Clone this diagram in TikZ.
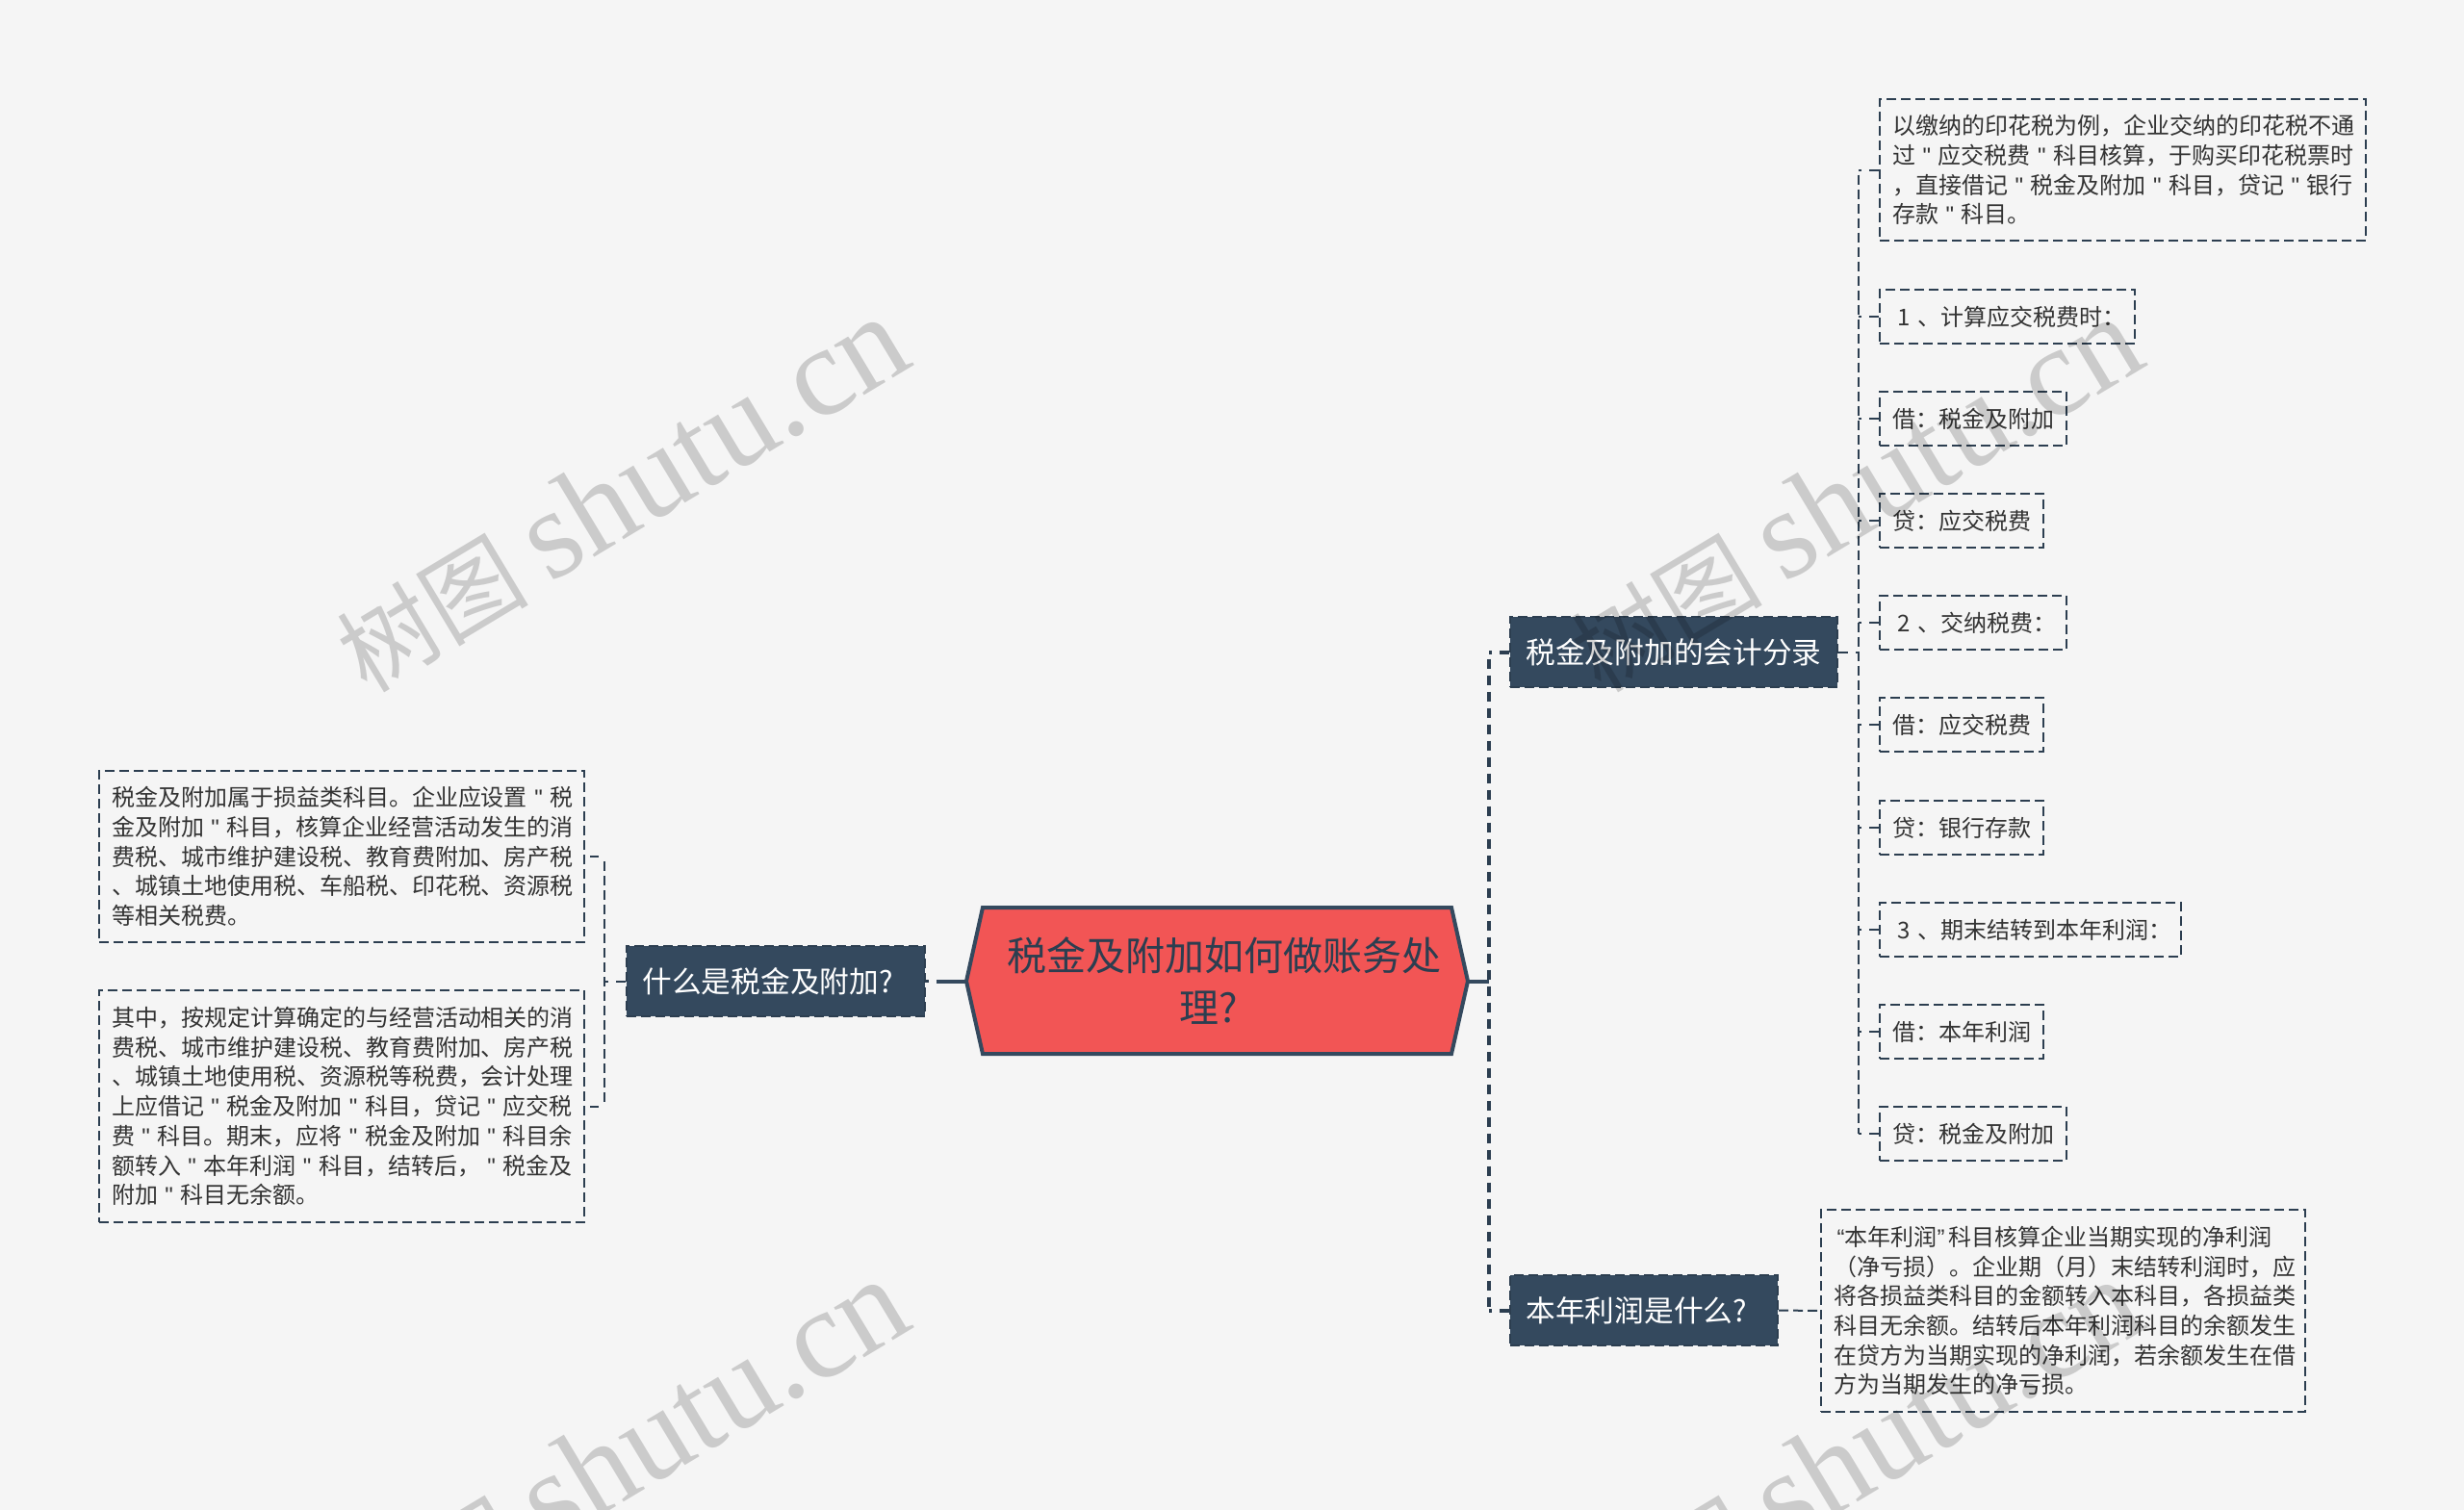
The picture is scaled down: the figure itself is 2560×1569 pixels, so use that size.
\documentclass[tikz,border=0pt]{standalone}
\usepackage{fontspec}
\setmainfont{Noto Sans CJK SC}
\newfontfamily\wmlatin{Liberation Serif}
\newfontfamily\plainq{Liberation Sans}
\newcommand{\qq}{\hbox to 23.5pt{\hss\plainq"\hss}}
\newcommand{\qlq}{\hbox to 11.5pt{\hss\plainq “}}
\newcommand{\qrq}{\hbox to 11.5pt{\plainq ”\hss}}
\newcommand{\wmtext}{\fontsize{100}{120}\selectfont 树图 {\wmlatin\fontsize{132}{120}\selectfont shutu.cn}}
\definecolor{bgc}{HTML}{F5F5F5}
\definecolor{navy}{HTML}{34495E}
\definecolor{navyd}{HTML}{2C3E50}
\definecolor{redc}{HTML}{F25555}
\definecolor{txt}{HTML}{333333}
\tikzset{
 leaf/.style={draw=navyd,line width=2pt,dash pattern=on 10pt off 5pt,text=txt,align=left,inner xsep=13pt,inner ysep=0pt,
   font=\fontsize{24}{30.7}\selectfont},
 branch/.style={draw=navyd,fill=navy,line width=2pt,dash pattern=on 10pt off 5pt,text=white,align=left,inner xsep=16.5pt,inner ysep=0pt,
   font=\fontsize{30.7}{36}\selectfont},
 thin link/.style={draw=navyd,line width=2pt,dash pattern=on 10pt off 5pt,dash phase=10pt},
 stub link/.style={draw=navyd,line width=2pt,dash pattern=on 10pt off 8pt},
 mid stub/.style={draw=navyd,line width=2pt,dash pattern=on 8.5pt off 6.5pt,dash phase=8.5pt},
 thick link/.style={draw=navyd,line width=4pt,dash pattern=on 10pt off 7pt,dash phase=10pt},
 thick stub/.style={draw=navyd,line width=4pt,dash pattern=on 10pt off 8pt},
 solid link/.style={draw=navy,line width=4pt},
 rootshape/.style={draw=navy,fill=redc,line width=4pt,line join=miter},
 roottext/.style={text=navyd,align=center,inner sep=0pt,font=\fontsize{41}{54}\selectfont},
 wm/.style={text=black,text opacity=.17,rotate=31,inner sep=0pt}
}
\begin{document}
\begin{tikzpicture}[x=1pt,y=-1pt]
\useasboundingbox (0,0) rectangle (2560,1569);
\fill[bgc] (0,0) rectangle (2560,1569);
% named positions of spines and root tips
\coordinate (rootL) at (1004,1019.5);
\coordinate (rootR) at (1525,1019.5);
\coordinate (rootLstub) at (973,1019.5);
\coordinate (t3stub) at (965,1019.5);
\coordinate (spine) at (1547,1019.5);
\coordinate (rspine) at (1931,677);
\coordinate (lspine) at (628,1019.5);
% root
\path[rootshape] (rootL) -- (1021,943) -- (1508,943) -- (rootR) -- (1508,1095) -- (1021,1095) -- cycle;
\node[roottext] (root) at (1271.5,1019) {税金及附加如何做账务处\\理?\hspace*{32pt}};
% branches
\node[branch,text width=307pt,minimum height=73pt] (t1) at (1739,677.5) {税金及附加的会计分录};
\node[branch,text width=245pt,minimum height=73pt] (t2) at (1708,1361.5) {本年利润是什么?};
\node[branch,text width=277pt,minimum height=73pt] (t3) at (806,1019.5) {什么是税金及附加?};
% right leaves
\node[leaf,text width=479pt,minimum height=147pt] (b1) at (2205.5,176.5) {以缴纳的印花税为例，企业交纳的印花税不通\\过\qq 应交税费\qq 科目核算，于购买印花税票时\\，直接借记\qq 税金及附加\qq 科目，贷记\qq 银行\\存款\qq 科目。};
\node[leaf,text width=239pt,minimum height=56pt] (b2) at (2085.5,329) {\mbox{\hspace*{5pt}1 、计算应交税费时：}};
\node[leaf,text width=168pt,minimum height=56pt] (b3) at (2050,435) {借：税金及附加};
\node[leaf,text width=144pt,minimum height=56pt] (b4) at (2038,541) {贷：应交税费};
\node[leaf,text width=168pt,minimum height=56pt] (b5) at (2050,647) {\mbox{\hspace*{5pt}2 、交纳税费：}};
\node[leaf,text width=144pt,minimum height=56pt] (b6) at (2038,753) {借：应交税费};
\node[leaf,text width=144pt,minimum height=56pt] (b7) at (2038,860) {贷：银行存款};
\node[leaf,text width=287pt,minimum height=56pt] (b8) at (2109.5,966) {\mbox{\hspace*{5pt}3 、期末结转到本年利润：}};
\node[leaf,text width=144pt,minimum height=56pt] (b9) at (2038,1072) {借：本年利润};
\node[leaf,text width=168pt,minimum height=56pt] (b10) at (2050,1178) {贷：税金及附加};
% profit leaf
\node[leaf,text width=477pt,minimum height=210pt] (d1) at (2143.5,1362) {\qlq 本年利润\qrq 科目核算企业当期实现的净利润\\（净亏损）。企业期（月）末结转利润时，应\\将各损益类科目的金额转入本科目，各损益类\\科目无余额。结转后本年利润科目的余额发生\\在贷方为当期实现的净利润，若余额发生在借\\方为当期发生的净亏损。};
% left leaves
\node[leaf,text width=478pt,minimum height=178pt] (l1) at (355,890) {税金及附加属于损益类科目。企业应设置\qq 税\\金及附加\qq 科目，核算企业经营活动发生的消\\费税、城市维护建设税、教育费附加、房产税\\、城镇土地使用税、车船税、印花税、资源税\\等相关税费。};
\node[leaf,text width=478pt,minimum height=241pt] (l2) at (355,1149.5) {其中，按规定计算确定的与经营活动相关的消\\费税、城市维护建设税、教育费附加、房产税\\、城镇土地使用税、资源税等税费，会计处理\\上应借记\qq 税金及附加\qq 科目，贷记\qq 应交税\\费\qq 科目。期末，应将\qq 税金及附加\qq 科目余\\额转入\qq 本年利润\qq 科目，结转后，\qq 税金及\\附加\qq 科目无余额。};
% connectors: root
\draw[solid link] (rootR) -- (spine);
\draw[solid link] (rootL) -- (rootLstub);
\draw[thick link] (t1.west -| spine) -- (t2.west -| spine);
\draw[thick stub] (t1.west) -- (t1.west -| spine);
\draw[thick stub] (t2.west) -- (t2.west -| spine);
\draw[stub link,line width=3pt] (t3.east) -- (t3stub);
% right subtree
\draw[thin link] (b1.west -| rspine) -- (b10.west -| rspine);
\draw[stub link] (t1.east) -- (t1.east -| rspine);
\foreach \n in {b1,b2,b3,b4,b5,b6,b7,b8,b9,b10}
  \draw[stub link] (\n.west) -- (\n.west -| rspine);
\draw[thin link,dash phase=0pt] (t2.east) -- (d1.west);
% left subtree
\draw[thin link] (l1.east -| lspine) -- (l2.east -| lspine);
\draw[stub link] (t3.west) -- (t3.west -| lspine);
\draw[mid stub] (l1.east -| lspine) -- (l1.east);
\draw[mid stub] (l2.east -| lspine) -- (l2.east);
% watermarks
\begin{scope}
\clip (0,0) rectangle (2560,1569);
\node[wm] (w1) at (645,514) {\wmtext};
\node[wm] (w2) at (1927,514) {\wmtext};
\node[wm] (w3) at (645,1514) {\wmtext};
\node[wm] (w4) at (1927,1514) {\wmtext};
\end{scope}
\end{tikzpicture}
\end{document}
